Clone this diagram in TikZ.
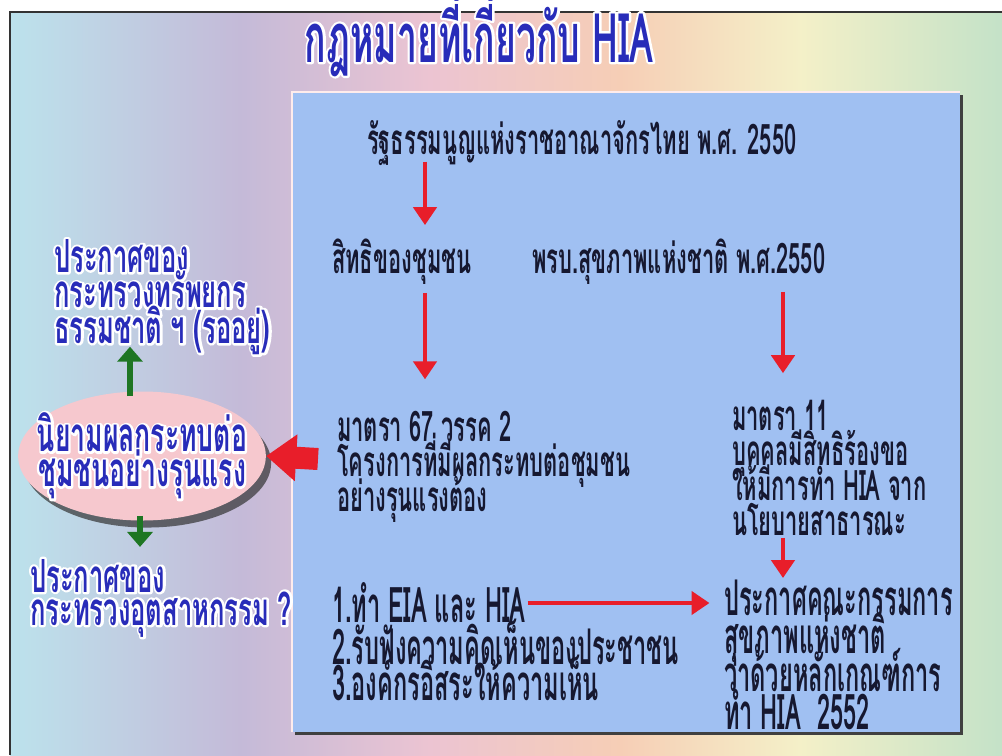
\documentclass[tikz,border=0pt]{standalone}
\usepackage{fontspec}
\usetikzlibrary{arrows.meta,positioning,shapes.geometric,shadows}
\newfontfamily\thaia[Script=Thai,FakeStretch=0.52]{Loma}
\newfontfamily\thaib[Script=Thai,FakeStretch=0.56]{Loma}
\newfontfamily\thaic[Script=Thai,FakeStretch=0.48]{Loma}
\definecolor{boxblue}{RGB}{160,192,242}
\definecolor{inkblue}{RGB}{40,44,185}
\definecolor{inkdark}{RGB}{22,24,48}
\definecolor{arrred}{RGB}{232,30,42}
\definecolor{arrgreen}{RGB}{30,118,35}
\definecolor{ovalpink}{RGB}{246,200,206}
\definecolor{bgA}{RGB}{188,226,236}
\definecolor{bgB}{RGB}{196,186,216}
\definecolor{bgC}{RGB}{236,196,210}
\definecolor{bgD}{RGB}{246,206,182}
\definecolor{bgE}{RGB}{244,240,200}
\definecolor{bgF}{RGB}{196,226,200}
% white halo under the text: a stroked white copy, then the filled text
\newcommand{\wl}[1]{\rlap{\special{pdf:literal direct 1 1 1 RG 2.6 w 1 j 1 Tr}#1\special{pdf:literal direct 0 Tr}}#1}
\newcommand{\tight}{\lineskiplimit=-30pt\relax}
\begin{document}
\begin{tikzpicture}[x=0.02cm, y=-0.02cm,
    txt/.style={font={\thaia\bfseries\fontsize{24}{19.9}\selectfont\tight},
      text=inkdark, inner sep=1pt, align=left, anchor=west},
    bigtxt/.style={txt, font={\thaic\bfseries\fontsize{28}{21.6}\selectfont\tight}},
    lefttxt/.style={txt, text=inkblue, font={\thaib\bfseries\fontsize{26}{20.2}\selectfont\tight}},
    redarr/.style={draw=arrred, line width=2.8pt, -{Triangle[length=0.36cm,width=0.46cm]}},
    greenarr/.style={draw=arrgreen, line width=3.2pt, -{Triangle[length=0.3cm,width=0.5cm]}}]
  % page and background
  \useasboundingbox (0,0) rectangle (1002,755);
  \fill[white] (0,0) rectangle (1002,755);
  \shade[left color=bgA, right color=bgB] (10,12) rectangle (240,755);
  \shade[left color=bgB, right color=bgC] (239.5,12) rectangle (430,755);
  \shade[left color=bgC, right color=bgD] (429.5,12) rectangle (620,755);
  \shade[left color=bgD, right color=bgE] (619.5,12) rectangle (800,755);
  \shade[left color=bgE, right color=bgF] (799.5,12) rectangle (1002,755);
  \draw[black!80, line width=1.2pt] (10,755) -- (10,12) -- (1002,12);
  % title
  \node[font={\thaia\bfseries\fontsize{39}{39}\selectfont}, text=inkblue, anchor=base] (title) at (479,62) {\wl{กฎหมายที่เกี่ยวกับ HIA}};
  % main panel
  \fill[black!75] (295,95) rectangle (963,735);
  \fill[boxblue] (292,92) rectangle (960,732);
  \draw[white!70!pink, line width=1pt] (292,732) -- (292,92) -- (960,92);
  % panel texts
  \node[txt] (const) at (365,143) {รัฐธรรมนูญแห่งราชอาณาจักรไทย พ.ศ. 2550};
  \node[txt] (right) at (330,262) {สิทธิของชุมชน};
  \node[txt] (act) at (530,262) {พรบ.สุขภาพแห่งชาติ พ.ศ.2550};
  \node[txt] (sec67) at (335,467) {มาตรา 67 วรรค 2\\โครงการที่มีผลกระทบต่อชุมชน\\อย่างรุนแรงต้อง};
  \node[txt] (sec11) at (730,468) {มาตรา 11\\บุคคลมีสิทธิร้องขอ\\ให้มีการทำ HIA จาก\\นโยบายสาธารณะ};
  \node[bigtxt] (step1) at (330,603) {1.ทำ EIA และ HIA};
  \node[bigtxt] (step2) at (330,642) {2.รับฟังความคิดเห็นของประชาชน};
  \node[bigtxt] (step3) at (330,678) {3.องค์กรอิสระให้ความเห็น};
  \node[bigtxt] (notice) at (722,655) {ประกาศคณะกรรมการ\\สุขภาพแห่งชาติ\\ว่าด้วยหลักเกณฑ์การ\\ทำ HIA\ \ 2552};
  % left side
  \node[ellipse, draw=none, fill=ovalpink, minimum width=4.8cm, minimum height=2.34cm,
    inner xsep=-0.35cm, inner ysep=0.05cm,
    drop shadow={shadow xshift=3pt, shadow yshift=-4pt, fill=black!80, opacity=0.7},
    font={\thaib\bfseries\fontsize{27}{19.9}\selectfont\tight}, text=inkblue, align=center]
    (defn) at (142,456) {\wl{นิยามผลกระทบต่อ}\\\wl{ชุมชนอย่างรุนแรง}};
  \node[lefttxt] (moe) at (52,297) {\wl{ประกาศของ}\\\wl{กระทรวงทรัพยกร}\\\wl{ธรรมชาติ ฯ (รออยู่)}};
  \node[lefttxt, font={\thaib\bfseries\fontsize{26}{18.8}\selectfont\tight}] (moi) at (28,598) {\wl{ประกาศของ}\\\wl{กระทรวงอุตสาหกรรม ?}};
  % connectors
  \draw[redarr, shorten <=-0.12cm, shorten >=0.24cm] (const.south -| 425,0) -- (right.north -| 425,0);
  \draw[redarr, shorten <=0.12cm, shorten >=0.6cm] (right.south -| 425,0) -- (sec67.north -| 425,0);
  \draw[redarr, shorten <=0.1cm, shorten >=0.5cm] (act.south -| 783,0) -- (sec11.north -| 783,0);
  \draw[redarr] (sec11.south -| 783,0) -- (notice.north -| 783,0);
  \draw[redarr, shorten >=0.25cm] (step1.east) -- (notice.west |- step1.east);
  \draw[greenarr, shorten <=-0.1cm, shorten >=-0.2cm] (defn.north -| 130,0) -- (moe.south -| 130,0);
  \draw[greenarr, shorten <=-0.1cm, shorten >=0.2cm] (defn.south -| 140,0) -- (moi.north -| 140,0);
  \coordinate (tail) at (318,459);
  \draw[arrred, line width=0.44cm, -{Triangle[length=0.6cm,width=0.9cm]}] (tail) -- (defn.east);
\end{tikzpicture}
\end{document}
